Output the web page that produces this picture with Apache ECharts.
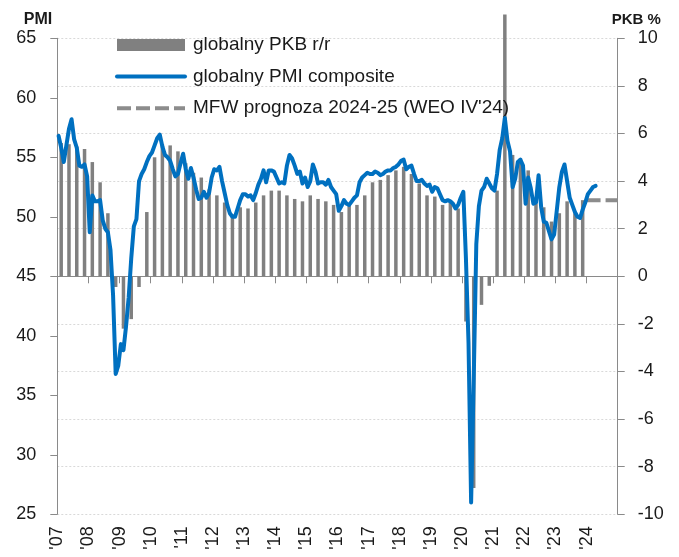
<!DOCTYPE html>
<html><head><meta charset="utf-8">
<script src="https://cdn.jsdelivr.net/npm/echarts@6/dist/echarts.min.js"></script>
<style>html,body{margin:0;padding:0;background:#fff}#c{width:679px;height:557px}</style>
</head><body><div id="c"></div>
<script>
const firstYear = 2007;
const yearLabels = ["'07","'08","'09","'10","'11","'12","'13","'14","'15","'16","'17","'18","'19","'20","'21","'22","'23","'24"];
const seriesNames = ['globalny PKB r/r', 'globalny PMI composite', "MFW prognoza 2024-25 (WEO IV'24)"];
// quarterly global GDP y/y, 2007Q1 - 2023Q4
const gdpQuarterly = [
  5.6, 5.55, 5.45, 5.35,
  4.8, 3.95, 2.65, -0.45,
  -2.2, -1.8, -0.45, 2.7,
  5.0, 5.55, 5.5, 5.25,
  4.75, 4.35, 4.15, 3.65,
  3.4, 3.1, 2.6, 2.9,
  2.85, 3.1, 3.4, 3.6,
  3.6, 3.4, 3.25, 3.15,
  3.4, 3.25, 3.15, 3.0,
  2.7, 3.0, 3.0, 3.4,
  3.95, 4.05, 4.25, 4.45,
  4.6, 4.3, 3.9, 3.4,
  3.35, 3.0, 3.1, 2.85,
  -1.9, -8.9, -1.2, -0.4,
  3.6, 11.0, 5.1, 4.95,
  4.45, 3.05, 2.9, 2.3,
  2.65, 3.15, 2.65, 3.2
];
// monthly global composite PMI, 2007-01 - 2024-04
const pmiMonthly = [
  56.8, 55.8, 54.6, 56.0, 57.4, 58.2, 56.5, 55.8, 54.3, 54.2, 54.4, 53.4,
  48.7, 51.8, 51.3, 51.3, 51.4, 49.7, 49.0, 48.7, 47.2, 43.4, 36.8, 37.5,
  39.3, 38.8, 40.8, 43.2, 46.5, 49.2, 49.8, 53.0, 53.6, 54.0, 54.6, 55.1,
  55.4, 56.0, 56.6, 56.9, 55.9, 55.2, 55.0, 54.7, 54.0, 53.4, 53.6, 54.5,
  55.3, 54.0, 53.2, 54.1, 53.3, 52.3, 51.5, 51.6, 52.1, 51.6, 52.0, 53.3,
  54.0, 53.9, 54.2, 53.0, 52.0, 51.0, 50.3, 50.0, 50.0, 50.7, 51.4, 51.9,
  51.9, 51.7, 51.8, 51.4, 52.0, 52.7, 53.2, 53.9, 52.9, 53.9, 53.9, 53.8,
  53.3, 52.8, 52.9, 52.8, 54.3, 55.2, 54.9, 54.3, 53.6, 53.8, 52.8, 53.3,
  52.5, 53.0, 54.4, 53.8, 52.8, 52.9, 52.9, 52.7, 53.1, 52.5, 52.2, 51.9,
  50.5, 50.9, 51.4, 51.1, 51.0, 51.3, 51.6, 51.8, 52.9, 53.3, 53.5, 53.7,
  53.6, 53.6, 53.8, 53.7, 53.5, 53.6, 53.8, 53.9, 53.9, 54.1, 54.2, 54.4,
  54.7, 54.8, 54.0, 54.2, 54.3, 53.6, 53.0, 53.0, 53.1, 52.8, 52.6, 52.7,
  52.1, 52.5, 52.4, 51.9, 51.4, 51.3, 51.4, 51.3, 51.1, 50.7, 51.0, 51.6,
  52.1, 46.5, 39.4, 26.0, 36.3, 47.7, 50.9, 52.2, 52.5, 53.2, 52.8, 52.4,
  52.2, 53.6, 55.6, 56.6, 58.3, 56.4, 55.5, 52.5, 53.2, 54.6, 54.8, 54.3,
  51.1, 53.3, 52.4, 51.1, 51.2, 53.5, 50.8, 49.6, 49.5, 48.8, 48.1, 48.5,
  50.5, 52.5, 53.8, 54.4, 53.0, 51.6, 51.0, 50.4, 50.0, 49.9, 50.6, 51.2,
  51.9, 52.2, 52.5, 52.6
];
// IMF WEO Oct'24 forecast period and value
const forecastYears = [2024, 2025];
const forecastValues = [3.2, 3.2];

const gdpData = gdpQuarterly.map((v, i) => [firstYear + (i + 0.5) / 4, v]);
const pmiData = pmiMonthly.map((v, i) => [firstYear + (i + 0.5) / 12, v]);
const fcData = forecastYears.map((y, i) => [y, forecastValues[i]]);

const axisGray = '#8a8a8a';
const txt = '#1a1a1a';
const font = 'Liberation Sans, Arial, sans-serif';

const chart = echarts.init(document.getElementById('c'), null, {renderer: 'canvas'});
chart.setOption({
  animation: false,
  backgroundColor: '#fff',
  textStyle: {fontFamily: font},
  grid: {left: 57.3, right: 61.3, top: 38.3, bottom: 42.7, containLabel: false, outerBoundsMode: 'none'},
  legend: {
    orient: 'vertical', left: 115, top: 35, padding: 0, itemWidth: 68, itemHeight: 12, itemGap: 11.6,
    textStyle: {fontSize: 19, color: txt, fontFamily: font, lineHeight: 20, padding: [0, 0, 0, 3]},
    lineStyle: {width: 'inherit'},
    data: [
      {name: seriesNames[0], icon: 'rect'},
      {name: seriesNames[1], itemStyle: {opacity: 0}},
      {name: seriesNames[2], itemStyle: {opacity: 0}}
    ]
  },
  xAxis: [
    {
      type: 'value', min: 2007, max: 2025, interval: 1, position: 'bottom',
      axisLine: {show: true, onZero: true, onZeroAxisIndex: 1, lineStyle: {color: axisGray, width: 1}},
      axisTick: {show: true, length: 7, lineStyle: {color: axisGray}},
      axisLabel: {show: false}, splitLine: {show: false}
    },
    {
      type: 'value', min: 2007, max: 2025, interval: 1, position: 'bottom',
      axisLine: {show: false, onZero: false}, axisTick: {show: false}, splitLine: {show: false},
      axisLabel: {
        rotate: 90, margin: 12, fontSize: 18, color: txt, fontFamily: font, showMaxLabel: false,
        formatter: v => yearLabels[Math.round(v) - firstYear] || ''
      }
    }
  ],
  yAxis: [
    {
      type: 'value', min: 25, max: 65, interval: 5, position: 'left',
      name: 'PMI', nameLocation: 'end', nameGap: 11,
      nameTextStyle: {fontWeight: 'bold', fontSize: 16, color: txt, align: 'right', padding: [0, 5, 0, 0]},
      axisLine: {show: true, lineStyle: {color: axisGray}},
      axisTick: {show: true, length: 7, lineStyle: {color: axisGray}},
      axisLabel: {margin: 21, fontSize: 18, color: txt, fontFamily: font},
      splitLine: {show: false}
    },
    {
      type: 'value', min: -10, max: 10, interval: 2, position: 'right',
      name: 'PKB %', nameLocation: 'end', nameGap: 11,
      nameTextStyle: {fontWeight: 'bold', fontSize: 15, color: txt, align: 'left', padding: [0, 0, 0, -6]},
      axisLine: {show: true, lineStyle: {color: axisGray}},
      axisTick: {show: true, length: 7, lineStyle: {color: axisGray}},
      axisLabel: {margin: 20, fontSize: 18, color: txt, fontFamily: font},
      splitLine: {show: true, lineStyle: {color: '#d9d9d9', type: [2, 2]}}
    }
  ],
  series: [
    {
      name: seriesNames[0], type: 'bar', xAxisIndex: 0, yAxisIndex: 1, data: gdpData,
      barWidth: 3.5, clip: false, itemStyle: {color: '#808080'}, z: 2
    },
    {
      name: seriesNames[1], type: 'line', xAxisIndex: 0, yAxisIndex: 0, data: pmiData,
      symbol: 'none', lineStyle: {color: '#0070c0', width: 4, join: 'round', cap: 'round'},
      itemStyle: {color: '#0070c0'}, z: 4
    },
    {
      name: seriesNames[2], type: 'line', xAxisIndex: 0, yAxisIndex: 1, data: fcData,
      symbol: 'none', lineStyle: {color: '#8c8c8c', width: 4, type: [14, 5]},
      itemStyle: {color: '#8c8c8c'}, z: 3
    }
  ]
});
</script>
</body></html>
